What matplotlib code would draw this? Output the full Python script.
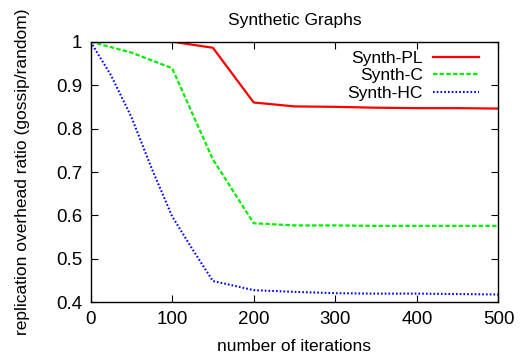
import matplotlib
matplotlib.use("Agg")
import matplotlib.pyplot as plt

# iterations and ratios
iters_pl = [0, 50, 100, 150, 200, 250, 300, 350, 400, 450, 500]
synth_pl = [1.0, 1.0, 1.0, 0.986, 0.860, 0.851, 0.850, 0.848, 0.847, 0.847, 0.846]

iters_c = [0, 50, 100, 150, 200, 250, 300, 350, 400, 450, 500]
synth_c = [1.0, 0.975, 0.939, 0.729, 0.582, 0.577, 0.577, 0.576, 0.576, 0.576, 0.576]

iters_hc = [0, 25, 50, 75, 100, 125, 150, 200, 250, 300, 350, 400, 450, 500]
synth_hc = [1.0, 0.923, 0.827, 0.708, 0.598, 0.522, 0.449, 0.428, 0.424, 0.421,
            0.420, 0.420, 0.419, 0.418]

xticks = [0, 100, 200, 300, 400, 500]
yticks = [0.4, 0.5, 0.6, 0.7, 0.8, 0.9, 1.0]
ytick_labels = ["0.4", "0.5", "0.6", "0.7", "0.8", "0.9", "1"]

plt.rcParams["font.family"] = ["Liberation Sans", "DejaVu Sans"]
plt.rcParams["font.size"] = 12.5

fig = plt.figure(figsize=(5.25, 3.56), dpi=100)
ax = fig.add_axes([0.1724, 0.1508, 0.9495 - 0.1724, 0.8829 - 0.1508])

ax.plot(iters_pl, synth_pl, color="#ff0000", lw=1.6, label="Synth-PL")
ax.plot(iters_c, synth_c, color="#00ee00", lw=1.6, dashes=(2, 1), label="Synth-C")
ax.plot(iters_hc, synth_hc, color="#0000ff", lw=1.5, dashes=(0.8, 1.0), label="Synth-HC")

ax.set_xlim(0, 500)
ax.set_ylim(0.4, 1.0)
ax.set_xticks(xticks)
ax.set_yticks(yticks)
ax.set_yticklabels(ytick_labels)
ax.tick_params(direction="in", top=True, right=True, length=5, width=0.8,
               pad=6, labelsize=13.5)
for s in ax.spines.values():
    s.set_linewidth(1.0)

ax.set_title("Synthetic Graphs", fontsize=12.5, pad=12)
ax.set_xlabel("number of iterations", labelpad=8)
ax.set_ylabel("replication overhead ratio (gossip/random)", labelpad=19)

ax.legend(loc="upper right", bbox_to_anchor=(0.952, 0.966), frameon=False,
          markerfirst=False, handlelength=2.65, handletextpad=0.58,
          borderaxespad=0, borderpad=0, labelspacing=0.15, fontsize=12.5)

fig.savefig("out.png", dpi=100)
